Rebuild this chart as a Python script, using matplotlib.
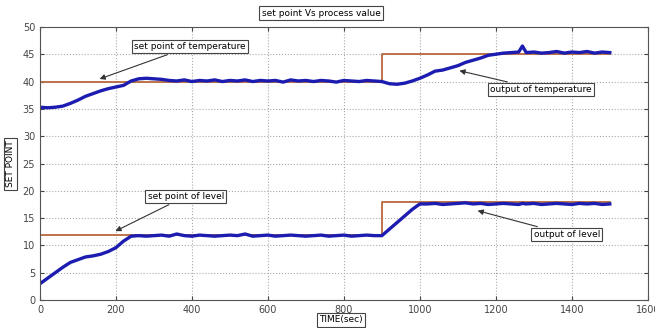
import matplotlib
matplotlib.use("Agg")
import matplotlib.pyplot as plt

# ── Data ──────────────────────────────────────────────────────────────────────

sp_time = [0, 900, 900, 1500]
sp_temp = [40, 40, 45, 45]
sp_level = [12, 12, 18, 18]

out_time = [0, 20, 40, 60, 80, 100, 120, 140, 160, 180, 200, 220, 240, 260, 280,
            300, 320, 340, 360, 380, 400, 420, 440, 460, 480, 500, 520, 540, 560,
            580, 600, 620, 640, 660, 680, 700, 720, 740, 760, 780, 800, 820, 840,
            860, 880, 900, 920, 940, 960, 980, 1000, 1020, 1040, 1060, 1080, 1100,
            1120, 1140, 1160, 1180, 1200, 1220, 1240, 1260, 1270, 1280, 1300, 1320,
            1340, 1360, 1380, 1400, 1420, 1440, 1460, 1480, 1500]

out_temp = [35.3, 35.2, 35.3, 35.5, 36.0, 36.6, 37.3, 37.8, 38.3, 38.7, 39.0,
            39.3, 40.1, 40.5, 40.6, 40.5, 40.4, 40.2, 40.1, 40.3, 40.0, 40.2,
            40.1, 40.3, 40.0, 40.2, 40.1, 40.3, 40.0, 40.2, 40.1, 40.2, 39.9,
            40.3, 40.1, 40.2, 40.0, 40.2, 40.1, 39.9, 40.2, 40.1, 40.0, 40.2,
            40.1, 40.0, 39.6, 39.5, 39.7, 40.1, 40.6, 41.2, 41.9, 42.1, 42.5,
            42.9, 43.5, 43.9, 44.3, 44.8, 45.0, 45.2, 45.3, 45.4, 46.5, 45.3,
            45.4, 45.2, 45.3, 45.5, 45.2, 45.4, 45.3, 45.5, 45.2, 45.4, 45.3]

out_level = [3.0, 4.0, 5.0, 6.0, 6.9, 7.4, 7.9, 8.1, 8.4, 8.9, 9.6, 10.8, 11.7,
             11.8, 11.7, 11.8, 11.9, 11.7, 12.1, 11.8, 11.7, 11.9, 11.8, 11.7,
             11.8, 11.9, 11.8, 12.1, 11.7, 11.8, 11.9, 11.7, 11.8, 11.9, 11.8,
             11.7, 11.8, 11.9, 11.7, 11.8, 11.9, 11.7, 11.8, 11.9, 11.8, 11.8,
             13.0, 14.2, 15.4, 16.6, 17.6, 17.6, 17.7, 17.5, 17.6, 17.7, 17.8,
             17.6, 17.7, 17.5, 17.6, 17.7, 17.6, 17.5, 17.7, 17.6, 17.7, 17.5,
             17.6, 17.7, 17.6, 17.5, 17.7, 17.6, 17.7, 17.5, 17.6]

SP_COLOR = "#b8683c"
OUT_COLOR = "#1c1cb0"

# ── Plot ──────────────────────────────────────────────────────────────────────

fig = plt.figure(figsize=(6.55, 3.28), dpi=100)
ax = fig.add_axes([0.061, 0.085, 0.928, 0.833])

ax.plot(sp_time, sp_temp, color=SP_COLOR, linewidth=1.3)
ax.plot(sp_time, sp_level, color=SP_COLOR, linewidth=1.3)
ax.plot(out_time, out_temp, color=OUT_COLOR, linewidth=2.4)
ax.plot(out_time, out_level, color=OUT_COLOR, linewidth=2.4)

ax.set_xlim(0, 1600)
ax.set_ylim(0, 50)
ax.set_xticks(range(0, 1601, 200))
ax.set_yticks(range(0, 51, 5))
ax.tick_params(direction="in", top=True, right=True, labelsize=7,
               colors="#444444", length=3)
ax.grid(True, linestyle=":", color="#aaaaaa", linewidth=0.8)
for s in ax.spines.values():
    s.set_color("#555555")

box = dict(boxstyle="square,pad=0.25", facecolor="white", edgecolor="#444444",
           linewidth=0.8)
arrow = dict(arrowstyle="-|>", color="#333333", linewidth=0.8, mutation_scale=8)

fig.text(0.49, 0.96, "set point Vs process value", fontsize=6.5, ha="center",
         va="center", bbox=box)
fig.text(0.016, 0.5, "SET POINT", fontsize=6.5, rotation=90, ha="center",
         va="center", bbox=box)
fig.text(0.52, 0.025, "TIME(sec)", fontsize=6.5, ha="center", va="center",
         bbox=box)

ax.annotate("set point of temperature", xy=(150, 40.3), xytext=(395, 46.4),
            fontsize=6.5, ha="center", va="center", bbox=box, arrowprops=arrow)
ax.annotate("output of temperature", xy=(1097, 42.1), xytext=(1318, 38.5),
            fontsize=6.5, ha="center", va="center", bbox=box, arrowprops=arrow)
ax.annotate("set point of level", xy=(192, 12.4), xytext=(384, 19.0),
            fontsize=6.5, ha="center", va="center", bbox=box, arrowprops=arrow)
ax.annotate("output of level", xy=(1145, 16.5), xytext=(1387, 12.0),
            fontsize=6.5, ha="center", va="center", bbox=box, arrowprops=arrow)

fig.savefig("out.png", dpi=100)
